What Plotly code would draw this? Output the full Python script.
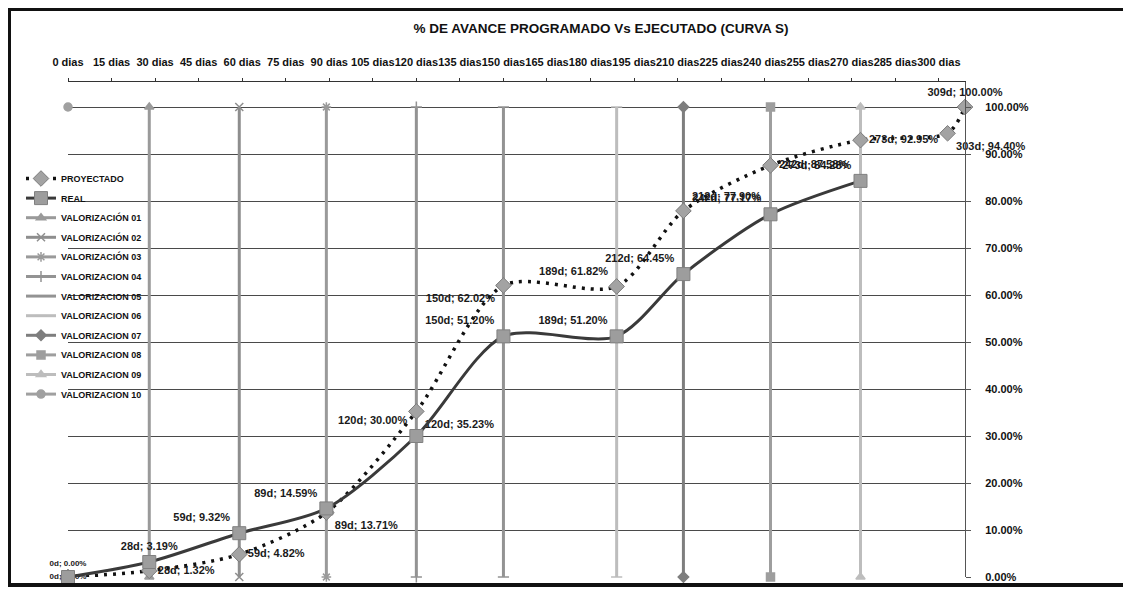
import plotly.graph_objects as go

# ---------------- data ----------------
proj_days = [0, 28, 59, 89, 120, 150, 189, 212, 242, 273, 303, 309]
proj_pct = [0.00, 1.32, 4.82, 13.71, 35.23, 62.02, 61.82, 77.90, 87.58, 92.95, 94.40, 100.00]

real_days = [0, 28, 59, 89, 120, 150, 189, 212, 242, 273]
real_pct = [0.00, 3.19, 9.32, 14.59, 30.00, 51.20, 51.20, 64.45, 77.17, 84.28]

val_names = ["VALORIZACIÓN 01", "VALORIZACIÓN 02", "VALORIZACIÓN 03", "VALORIZACION 04",
             "VALORIZACION 05", "VALORIZACION 06", "VALORIZACION 07", "VALORIZACION 08",
             "VALORIZACION 09", "VALORIZACION 10"]
val_days = [28, 59, 89, 120, 150, 189, 212, 242, 273, 0]
val_low = [0, 0, 0, 0, 0, 0, 0, 0, 0, None]
val_high = [100, 100, 100, 100, 100, 100, 100, 100, 100, 100]

tick_days = list(range(0, 301, 15))
tick_labels = [f"{d} dias" for d in tick_days]
y_ticks = [0, 10, 20, 30, 40, 50, 60, 70, 80, 90, 100]

# ---------------- styles ----------------
val_colors = ["#9a9a9a", "#8e8e8e", "#9a9a9a", "#939393", "#939393",
              "#bdbdbd", "#7e7e7e", "#9e9e9e", "#bdbdbd", "#a0a0a0"]
val_symbols = ["triangle-up", "x-thin-open", "asterisk-open", "cross-thin-open", "line-ew-open",
               "line-ew-open", "diamond", "square", "triangle-up", "circle"]

proj_pos = ["middle center", "middle right", "middle right", "bottom right", "bottom right",
            "bottom left", "top left", "top right", "middle right", "middle right",
            "bottom right", "top center"]
real_pos = ["top center", "top center"] + ["top left"] * 8
proj_sizes = [8] + [11] * (len(proj_days) - 1)
real_sizes = [8] + [11] * (len(real_days) - 1)

FONT = "Arial, Liberation Sans, sans-serif"

fig = go.Figure()

# valorization vertical lines
for name, d, lo, hi, c, s in zip(val_names, val_days, val_low, val_high, val_colors, val_symbols):
    if lo is None:
        xs, ys = [d], [hi / 100]
    else:
        xs, ys = [d, d], [lo / 100, hi / 100]
    fig.add_trace(go.Scatter(
        x=xs, y=ys, name=name, mode="lines+markers",
        line=dict(color=c, width=3),
        marker=dict(symbol=s, size=8, color=c, line=dict(color=c, width=1.5)),
        cliponaxis=False, hoverinfo="skip",
    ))

# proyectado
fig.add_trace(go.Scatter(
    x=proj_days, y=[v / 100 for v in proj_pct], name="PROYECTADO",
    mode="lines+markers+text",
    line=dict(color="#111111", width=3.5, dash="3px,6px", shape="spline", smoothing=0.8),
    marker=dict(symbol="diamond", size=12, color="#a3a3a3", line=dict(color="#7a7a7a", width=1)),
    text=[f"{d}d; {v:.2f}%" for d, v in zip(proj_days, proj_pct)],
    textposition=proj_pos,
    textfont=dict(family=FONT, size=proj_sizes, color="#1a1a1a", weight="bold"),
    cliponaxis=False,
))

# real
fig.add_trace(go.Scatter(
    x=real_days, y=[v / 100 for v in real_pct], name="REAL",
    mode="lines+markers+text",
    line=dict(color="#3a3a3a", width=3, shape="spline", smoothing=0.8),
    marker=dict(symbol="square", size=13, color="#9d9d9d", line=dict(color="#808080", width=1)),
    text=[f"{d}d; {v:.2f}%" for d, v in zip(real_days, real_pct)],
    textposition=real_pos,
    textfont=dict(family=FONT, size=real_sizes, color="#1a1a1a", weight="bold"),
    cliponaxis=False,
))

# legend order: PROYECTADO, REAL, V01..V10 (one group per entry for row spacing)
order = ["PROYECTADO", "REAL"] + val_names
for tr in fig.data:
    tr.legendrank = order.index(tr.name) + 1
    tr.legendgroup = tr.name

# page has an 8px body margin: figure pixel = page pixel - 8
OFF = 8
FIG_W, FIG_H = 1131 - OFF, 590 - OFF
L, T, W, H = 68 - OFF, 82 - OFF, 897, 495


def px_x(p):
    return (p - OFF - L) / W


def px_y(p):
    return (T + H - (p - OFF)) / H


frame = [
    dict(x0=px_x(8), x1=px_x(1140), y0=px_y(9.5), y1=px_y(9.5), w=3),
    dict(x0=px_x(9.5), x1=px_x(9.5), y0=px_y(8), y1=px_y(585), w=3),
    dict(x0=px_x(8), x1=px_x(1140), y0=px_y(585), y1=px_y(585), w=4),
]
for f in frame:
    fig.add_shape(type="line", xref="paper", yref="paper", x0=f["x0"], x1=f["x1"],
                  y0=f["y0"], y1=f["y1"], line=dict(color="#111111", width=f["w"]))

fig.update_layout(
    width=FIG_W, height=FIG_H,
    margin=dict(l=L, r=FIG_W - L - W, t=T, b=FIG_H - T - H, autoexpand=False),
    paper_bgcolor="white", plot_bgcolor="white",
    title=dict(text="% DE AVANCE PROGRAMADO Vs EJECUTADO (CURVA S)",
               x=(601 - OFF) / FIG_W, xanchor="center", y=1 - (28 - OFF) / FIG_H, yanchor="middle",
               font=dict(family=FONT, size=13.5, color="#111111", weight="bold")),
    showlegend=True,
    legend=dict(x=px_x(21), y=px_y(164), xanchor="left", yanchor="top",
                bgcolor="rgba(0,0,0,0)", borderwidth=0,
                font=dict(family=FONT, size=9, color="#111111", weight="bold"),
                traceorder="grouped", tracegroupgap=0.6, itemwidth=30),
    font=dict(family=FONT, color="#111111"),
)

fig.update_xaxes(
    range=[0, 309], side="top", automargin=False,
    tickvals=tick_days, ticktext=tick_labels, tickangle=0,
    showgrid=False, zeroline=False,
    showline=True, linecolor="#333333", linewidth=1,
    ticks="outside", ticklen=3, tickcolor="#333333",
    ticklabelstandoff=8,
    tickfont=dict(family=FONT, size=11, color="#111111", weight="bold"),
)
fig.update_yaxes(
    range=[0, 1.0532], side="right", automargin=False,
    tickvals=[v / 100 for v in y_ticks], tickformat=".2%",
    showgrid=True, gridcolor="#4a4a4a", gridwidth=1.2,
    zeroline=False,
    showline=True, linecolor="#555555", linewidth=1,
    ticks="outside", ticklen=5, tickcolor="#555555",
    ticklabelstandoff=12,
    tickfont=dict(family=FONT, size=11, color="#111111", weight="bold"),
)

fig.write_html("out.html")
